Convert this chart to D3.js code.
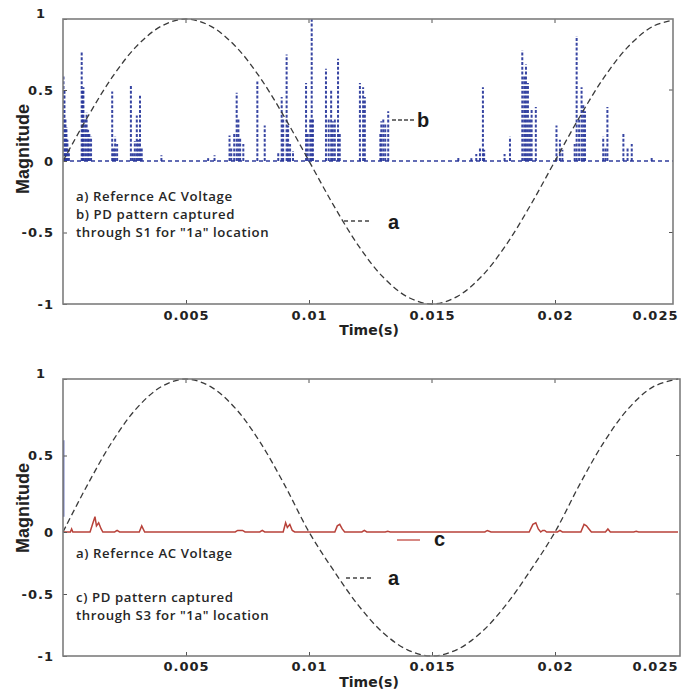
<!DOCTYPE html>
<html>
<head>
<meta charset="utf-8">
<script src="https://cdn.jsdelivr.net/npm/d3@7"></script>
<style>
  body { margin: 0; background: #fff; }
  svg { display: block; }
</style>
</head>
<body>
<svg id="fig" width="682" height="690"></svg>
<script>
// ---- Reference AC voltage, sampled every millisecond (per-unit) ----
const voltTimeMs = [0,1,2,3,4,5,6,7,8,9,10,11,12,13,14,15,16,17,18,19,20,21,22,23,24,25];
const voltValue  = [0,0.31,0.59,0.81,0.95,1,0.95,0.81,0.59,0.31,0,-0.31,-0.59,-0.81,-0.95,-1,-0.95,-0.81,-0.59,-0.31,0,0.31,0.59,0.81,0.95,1];

// ---- PD pulses captured through S1 (time in ms, magnitude) ----
const s1TimeMs = [
  0.02,0.06,0.10,0.14,0.18,0.24,
  0.76,0.80,0.83,0.90,0.96,1.02,1.07,1.14,
  2.00,2.06,2.12,2.20,
  2.76,2.84,2.92,3.00,3.06,3.13,3.20,
  4.00,5.90,6.16,
  6.77,6.84,6.96,7.06,7.13,7.20,7.33,
  7.90,8.20,
  8.75,8.89,8.95,9.09,9.15,9.23,9.35,
  9.88,9.95,10.05,10.11,10.16,
  10.69,10.80,10.90,10.97,11.05,11.18,11.25,
  12.07,12.20,12.27,
  12.90,12.94,13.02,13.10,13.22,
  16.07,16.60,
  16.80,16.95,17.07,17.12,
  17.95,18.17,
  18.67,18.75,18.82,18.90,18.98,19.05,19.22,
  20.06,20.20,20.30,
  20.80,20.88,20.98,21.08,21.15,21.22,
  21.96,22.05,22.13,
  22.78,22.95,23.12,
  23.93
];
const s1Mag = [
  0.61,0.50,0.30,0.24,0.15,0.08,
  0.77,0.50,0.52,0.30,0.34,0.22,0.20,0.17,
  0.49,0.10,0.17,0.12,
  0.54,0.06,0.14,0.32,0.15,0.46,0.10,
  0.04,0.02,0.04,
  0.18,0.10,0.20,0.48,0.30,0.16,0.12,
  0.56,0.25,
  0.06,0.45,0.30,0.75,0.25,0.12,0.07,
  0.55,0.20,0.30,1.00,0.30,
  0.65,0.30,0.50,0.28,0.30,0.72,0.20,
  0.55,0.52,0.45,
  0.20,0.28,0.30,0.27,0.35,
  0.03,0.02,
  0.05,0.10,0.52,0.08,
  0.05,0.17,
  0.78,0.60,0.68,0.55,0.30,0.37,0.38,
  0.25,0.15,0.08,
  0.12,0.88,0.30,0.52,0.40,0.35,
  0.17,0.10,0.38,
  0.20,0.10,0.12,
  0.03
];

// ---- PD trace captured through S3 (time in ms, magnitude) ----
const s3TimeMs = [0,0.30,0.35,0.40,1.10,1.20,1.30,1.36,1.45,1.55,1.62,2.10,2.20,2.30,3.10,3.20,3.32,
  7.00,7.10,7.30,7.40,8.00,8.10,8.20,8.95,9.05,9.12,9.22,9.32,9.42,11.05,11.15,11.25,11.35,11.45,
  12.15,12.25,12.35,13.10,13.20,13.30,17.15,17.25,17.40,18.95,19.10,19.22,19.32,19.42,19.50,19.58,19.66,
  20.10,20.20,20.30,21.05,21.18,21.28,21.38,21.48,22.05,22.15,22.25,23.20,23.30,23.40,25.00];
const s3Mag = [0,0,0.02,0,0,0.05,0.10,0.04,0.06,0.02,0,0,0.01,0,0,0.04,0,
  0,0.01,0.01,0,0,0.01,0,0,0.06,0.03,0.05,0.01,0,0,0.04,0.05,0.02,0,
  0,0.01,0,0,0.005,0,0,0.01,0,0,0.05,0.06,0.02,0,0.01,0.01,0,
  0,0.01,0,0,0.05,0.04,0.02,0,0,0.02,0,0,0.005,0,0];
// residual S1 trace at the start of the S3 record
const s3StrayTimeMs = [0.03];
const s3StrayMag = [0.6];

// ---- Axis ticks ----
const xTickValues = [0.005,0.01,0.015,0.02,0.025];
const xTickLabels = ["0.005","0.01","0.015","0.02","0.025"];
const yTickValues = [1,0.5,0,-0.5,-1];
const yTickLabels = ["1","0.5","0","-0.5","-1"];

const svg = d3.select("#fig");

const TICK_FONT = "'DejaVu Sans', Verdana, sans-serif";
const NOTE_FONT = "'Open Sans', 'Noto Sans', sans-serif";
const LETTER_FONT = "'Liberation Sans', Arial, sans-serif";
const YLABEL_FONT = "'Liberation Sans Narrow', 'Arial Narrow', 'Liberation Sans', sans-serif";

function drawPanel(p) {
  const g = svg.append("g");
  const x = d3.scaleLinear().domain([0, 0.025]).range([63, 678]);
  const y = d3.scaleLinear().domain([-1, 0, 1]).range([p.bottom, p.zero, p.top]);
  const left = 63, right = p.right;

  const clipId = "clip" + p.id;
  svg.append("clipPath").attr("id", clipId)
    .append("rect").attr("x", left).attr("y", p.top - 1)
    .attr("width", right - left).attr("height", p.bottom - p.top + 2);

  const plot = g.append("g").attr("clip-path", `url(#${clipId})`);

  // PD pattern
  p.drawPD(plot, x, y);

  // reference AC voltage
  const volt = voltTimeMs.map((t, i) => [t / 1000, voltValue[i]]);
  plot.append("path")
    .datum(volt)
    .attr("fill", "none")
    .attr("stroke", "#3a3a3a")
    .attr("stroke-width", 1.3)
    .attr("stroke-dasharray", "6,3.5")
    .attr("d", d3.line().x(d => x(d[0])).y(d => y(d[1])).curve(d3.curveCatmullRom.alpha(0.5)));

  // y axis (inward ticks)
  const ya = g.append("g").attr("transform", `translate(${left},0)`)
    .call(d3.axisLeft(y).tickValues(yTickValues)
      .tickFormat((d, i) => yTickLabels[i]).tickSize(-4).tickPadding(9));
  ya.select(".domain").remove();
  ya.selectAll("line").attr("stroke", "#555");
  ya.selectAll("text").attr("font-family", TICK_FONT).attr("font-weight", "bold")
    .attr("font-size", 13).attr("fill", "#222").attr("letter-spacing", 1);
  // the top label sits a little above its tick
  ya.selectAll(".tick").filter(d => d === 1).select("text")
    .attr("dy", "0.32em").attr("y", -6).attr("x", -17);

  // right-side ticks
  g.selectAll(".rtick").data([0.5, -0.5]).enter().append("line")
    .attr("x1", right).attr("x2", right - 4)
    .attr("y1", d => y(d)).attr("y2", d => y(d))
    .attr("stroke", "#555");

  // x axis (inward ticks)
  const xa = g.append("g").attr("transform", `translate(0,${p.bottom})`)
    .call(d3.axisBottom(x).tickValues(xTickValues)
      .tickFormat((d, i) => xTickLabels[i]).tickSize(-4).tickPadding(p.xPad));
  xa.select(".domain").remove();
  xa.selectAll("line").attr("stroke", "#555");
  xa.selectAll(".tick").filter(d => d > 0.024).select("line").remove();
  xa.selectAll("text").attr("font-family", TICK_FONT).attr("font-weight", "bold")
    .attr("font-size", 13).attr("fill", "#222").attr("letter-spacing", 1);
  xa.selectAll(".tick").filter(d => d > 0.024).select("text")
    .attr("text-anchor", "end").attr("x", 679 - x(0.025) - 1);

  // top ticks
  g.selectAll(".ttick").data(xTickValues.slice(0, 4)).enter().append("line")
    .attr("x1", d => x(d)).attr("x2", d => x(d))
    .attr("y1", p.top).attr("y2", p.top + 4)
    .attr("stroke", "#555");

  // frame
  g.append("rect").attr("x", left).attr("y", p.top)
    .attr("width", right - left).attr("height", p.bottom - p.top)
    .attr("fill", "none").attr("stroke", "#7d7d7d").attr("stroke-width", 1.6);

  // axis titles
  g.append("text").attr("x", 369).attr("y", p.timeY)
    .attr("text-anchor", "middle").attr("font-family", TICK_FONT)
    .attr("font-weight", "bold").attr("font-size", 14).attr("fill", "#222")
    .text("Time(s)");
  g.append("text")
    .attr("transform", `translate(29,${p.magY}) rotate(-90)`)
    .attr("text-anchor", "middle").attr("font-family", YLABEL_FONT)
    .attr("font-weight", "bold").attr("font-size", 18).attr("fill", "#222")
    .text("Magnitude");

  // notes
  p.notes.forEach(n => {
    g.append("text").attr("x", 76).attr("y", n.y)
      .attr("font-family", NOTE_FONT).attr("font-weight", 600)
      .attr("font-size", 13.2).attr("letter-spacing", 0.6)
      .attr("fill", "#262626").text(n.text);
  });

  // callout letters
  p.callouts.forEach(c => {
    g.append("line").attr("x1", c.x1).attr("x2", c.x2).attr("y1", c.ly).attr("y2", c.ly)
      .attr("stroke", c.color).attr("stroke-width", 1.3)
      .attr("stroke-dasharray", c.dash || null);
    g.append("text").attr("x", c.tx).attr("y", c.ty)
      .attr("font-family", LETTER_FONT).attr("font-weight", "bold")
      .attr("font-size", 20).attr("fill", "#1a1a1a").text(c.label);
  });
}

// ---- Top panel: S1 ----
drawPanel({
  id: 1, top: 19, zero: 161, bottom: 304, right: 673, xPad: 7,
  timeY: 335, magY: 149,
  notes: [
    {y: 201, text: "a) Refernce AC Voltage"},
    {y: 219, text: "b) PD pattern captured"},
    {y: 237, text: "through S1 for \"1a\" location"}
  ],
  callouts: [
    {label: "b", x1: 392, x2: 416, ly: 120, tx: 417, ty: 127, color: "#444", dash: "4,2"},
    {label: "a", x1: 344, x2: 372, ly: 221, tx: 388, ty: 229, color: "#444", dash: "4,3"}
  ],
  drawPD(plot, x, y) {
    plot.append("line")
      .attr("x1", x(0)).attr("x2", x(0.025))
      .attr("y1", y(0)).attr("y2", y(0))
      .attr("stroke", "#2f3d9c").attr("stroke-width", 1.4)
      .attr("stroke-dasharray", "4,3");
    plot.selectAll(".stem").data(s1TimeMs).enter().append("line")
      .attr("x1", d => x(d / 1000)).attr("x2", d => x(d / 1000))
      .attr("y1", y(0)).attr("y2", (d, i) => y(s1Mag[i]))
      .attr("stroke", "#26359a").attr("stroke-opacity", 0.92)
      .attr("stroke-width", 2)
      .attr("stroke-dasharray", "3,1.8");
  }
});

// ---- Bottom panel: S3 ----
drawPanel({
  id: 2, top: 379, zero: 532, bottom: 656, right: 680, xPad: 6,
  timeY: 687, magY: 508,
  notes: [
    {y: 558, text: "a) Refernce AC Voltage"},
    {y: 602, text: "c) PD pattern captured"},
    {y: 620, text: "through S3 for \"1a\" location"}
  ],
  callouts: [
    {label: "c", x1: 397, x2: 420, ly: 540, tx: 434, ty: 546, color: "#c24a42"},
    {label: "a", x1: 346, x2: 372, ly: 578, tx: 388, ty: 585, color: "#444", dash: "4,3"}
  ],
  drawPD(plot, x, y) {
    plot.selectAll(".stray").data(s3StrayTimeMs).enter().append("line")
      .attr("x1", d => x(d / 1000)).attr("x2", d => x(d / 1000))
      .attr("y1", y(0.1)).attr("y2", (d, i) => y(s3StrayMag[i]))
      .attr("stroke", "#3344aa").attr("stroke-width", 1.2);
    const trace = s3TimeMs.map((t, i) => [t / 1000, s3Mag[i]]);
    plot.append("path").datum(trace)
      .attr("fill", "none").attr("stroke", "#b8423a").attr("stroke-width", 1.5)
      .attr("d", d3.line().x(d => x(d[0])).y(d => y(d[1])));
  }
});
</script>
</body>
</html>
